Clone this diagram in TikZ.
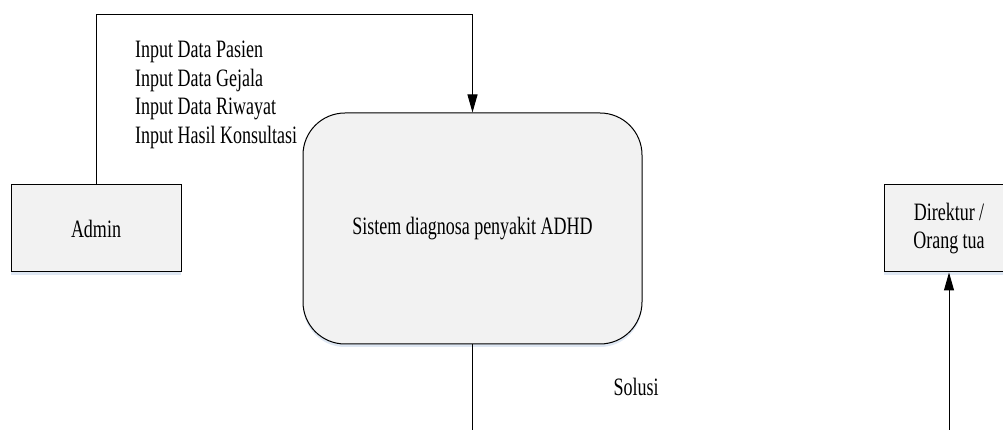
\documentclass[tikz,border=0pt]{standalone}
\usepackage{fontspec}
\setmainfont{Liberation Serif}[FakeStretch=0.72]
\usepackage{tikz}
\tikzset{x=1pt,y=1pt}
\usetikzlibrary{arrows.meta, shadows}
\definecolor{boxfill}{RGB}{242,242,242}
\definecolor{glow}{RGB}{200,215,235}

\begin{document}
\begin{tikzpicture}[font=\fontsize{25}{28.7}\selectfont,
  entity/.style={draw, line width=1pt, fill=boxfill, align=center,
    drop shadow={shadow xshift=0pt, shadow yshift=-3pt, fill=glow, opacity=.6}},
  process/.style={entity, rounded corners=42pt},
  flow/.style={line width=1pt, -{Triangle[length=18pt,width=10pt]}}]
  \useasboundingbox (0,0) rectangle (1003,430);
    \node[entity, minimum width=170, minimum height=87] (admin) at (96,201.5) {Admin};
    \node[process, minimum width=339, minimum height=231] (sistem) at (472.5,201.5)
      {Sistem diagnosa penyakit ADHD};
    \node[entity, minimum width=130, minimum height=87] (direktur) at (949,201.5)
      {Direktur /\\Orang tua};
    % input from admin
    \draw[flow] (admin.north) |- (96,415) -| (sistem.north);
    \node[anchor=west, align=left, inner sep=0] (input) at (135,335)
      {Input Data Pasien\\Input Data Gejala\\Input Data Riwayat\\Input Hasil Konsultasi};
    % solusi out to direktur
    \coordinate (outA) at (472.5,0);
    \coordinate (outB) at (949,0);
    \draw[line width=1pt] (sistem.south) -- (outA);
    \draw[flow] (outB) -- (direktur.south);
    \node (solusi) at (636,43) {Solusi};
\end{tikzpicture}
\end{document}
